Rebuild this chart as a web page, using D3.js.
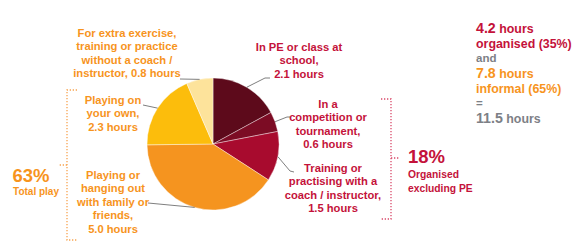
<!DOCTYPE html>
<html><head><meta charset="utf-8">
<script src="https://cdn.jsdelivr.net/npm/d3@7"></script>
<style>
html,body{margin:0;padding:0;background:#fff;}
text{font-family:"Liberation Sans",Arial,sans-serif;font-weight:bold;}
</style></head>
<body><svg id="c" width="583" height="252"></svg>
<script>
// ---- data ----
const categories = ["In PE or class at school","In a competition or tournament","Training or practising with a coach / instructor","Playing or hanging out with family or friends","Playing on your own","For extra exercise, training or practice without a coach / instructor"];
const hours = [2.1, 0.6, 1.5, 5.0, 2.3, 0.8];
const labelLines = [
  ["In PE or class at","school,","2.1 hours"],
  ["In a","competition or","tournament,","0.6 hours"],
  ["Training or","practising with a","coach / instructor,","1.5 hours"],
  ["Playing or","hanging out","with family or","friends,","5.0 hours"],
  ["Playing on","your own,","2.3 hours"],
  ["For extra exercise,","training or practice","without a coach /","instructor, 0.8 hours"]
];
const sliceColors = ["#5d0a1b","#7c0c24","#a80b2e","#f5941f","#fcbd0c","#fde39b"];
const groupPercents = ["63%","18%"];
const groupLabels = [["Total play"],["Organised","excluding PE"]];
const summaryHours = [4.2, 7.8, 11.5];

const crimson = "#c4123a", orange = "#f7941d", gray = "#7d8086";

const svg = d3.select("#c");
const cx = 213, cy = 144, R = 66;

const pie = d3.pie().sort(null).value(d => d)(hours);
const arc = d3.arc().innerRadius(0).outerRadius(R);
const g = svg.append("g").attr("transform", `translate(${cx},${cy})`);
g.selectAll("path").data(pie).join("path")
  .attr("d", arc).attr("fill", (d,i) => sliceColors[i])
  .attr("stroke", "#fff").attr("stroke-width", 0.4);

// label layout (positions only)
const layout = [
  {x:299, y:51, col:crimson, lead:[[265,78],[270,78]]},
  {x:328, y:108, col:crimson, lead:[[287,117],[290,117]]},
  {x:333, y:172, col:crimson, lead:[[290,171],[294,172]]},
  {x:113, y:179, col:orange, lead:[[148,203]]},
  {x:113, y:104, col:orange, lead:[[143,105]]},
  {x:127, y:37, col:orange, lead:[[180,79]]}
];
const lh = 13.4;
pie.forEach((d,i) => {
  const a = (d.startAngle + d.endAngle)/2;
  const p0 = [cx + R*Math.sin(a), cy - R*Math.cos(a)];
  const pts = [p0].concat(layout[i].lead);
  svg.append("path").attr("d", d3.line()(pts))
    .attr("fill","none").attr("stroke","#7f7f7f").attr("stroke-width",1);
  const t = svg.append("text").attr("text-anchor","middle")
    .attr("font-size", 11.2).attr("fill", layout[i].col);
  labelLines[i].forEach((s,j) => {
    t.append("tspan").attr("x", layout[i].x).attr("y", layout[i].y + j*lh).text(s);
  });
});

// brackets
function bracket(x, y0, y1, ym, dirEnd, dirMid, col){
  const p = d3.path();
  p.moveTo(x + dirEnd*10, y0); p.lineTo(x, y0); p.lineTo(x, y1); p.lineTo(x + dirEnd*10, y1);
  p.moveTo(x, ym); p.lineTo(x + dirMid*9, ym);
  svg.append("path").attr("d", p.toString()).attr("fill","none")
    .attr("stroke", col).attr("stroke-width",1.3).attr("stroke-dasharray","1.3,1.7");
}
bracket(67, 90, 240, 165, 1, -1, "#f7a450");
bracket(391, 99, 219, 158, -1, 1, "#d94a6a");

// group labels
svg.append("text").attr("x",31).attr("y",182).attr("text-anchor","middle")
  .attr("font-size",18.5).attr("fill",orange).text(groupPercents[0]);
groupLabels[0].forEach((s,j)=> svg.append("text").attr("x",36).attr("y",195+j*13).attr("text-anchor","middle")
  .attr("font-size",10).attr("fill",orange).text(s));
svg.append("text").attr("x",408).attr("y",163)
  .attr("font-size",18.5).attr("fill",crimson).text(groupPercents[1]);
groupLabels[1].forEach((s,j)=> svg.append("text").attr("x",408).attr("y",178+j*13.5)
  .attr("font-size",10.3).attr("fill",crimson).text(s));

// summary block
const sx = 476;
function hoursLine(y, val, col){
  const t = svg.append("text").attr("x",sx).attr("y",y).attr("fill",col);
  t.append("tspan").attr("font-size",14.2).text(d3.format(".1f")(val));
  t.append("tspan").attr("font-size",12.4).text(" hours");
}
hoursLine(33, summaryHours[0], crimson);
svg.append("text").attr("x",sx).attr("y",48).attr("font-size",12.4).attr("fill",crimson).text("organised (35%)");
svg.append("text").attr("x",sx).attr("y",62).attr("font-size",11.5).attr("fill",gray).text("and");
hoursLine(78, summaryHours[1], orange);
svg.append("text").attr("x",sx).attr("y",93).attr("font-size",12.4).attr("fill",orange).text("informal (65%)");
svg.append("text").attr("x",sx).attr("y",107).attr("font-size",11.5).attr("fill",gray).text("=");
hoursLine(123, summaryHours[2], gray);
</script></body></html>
